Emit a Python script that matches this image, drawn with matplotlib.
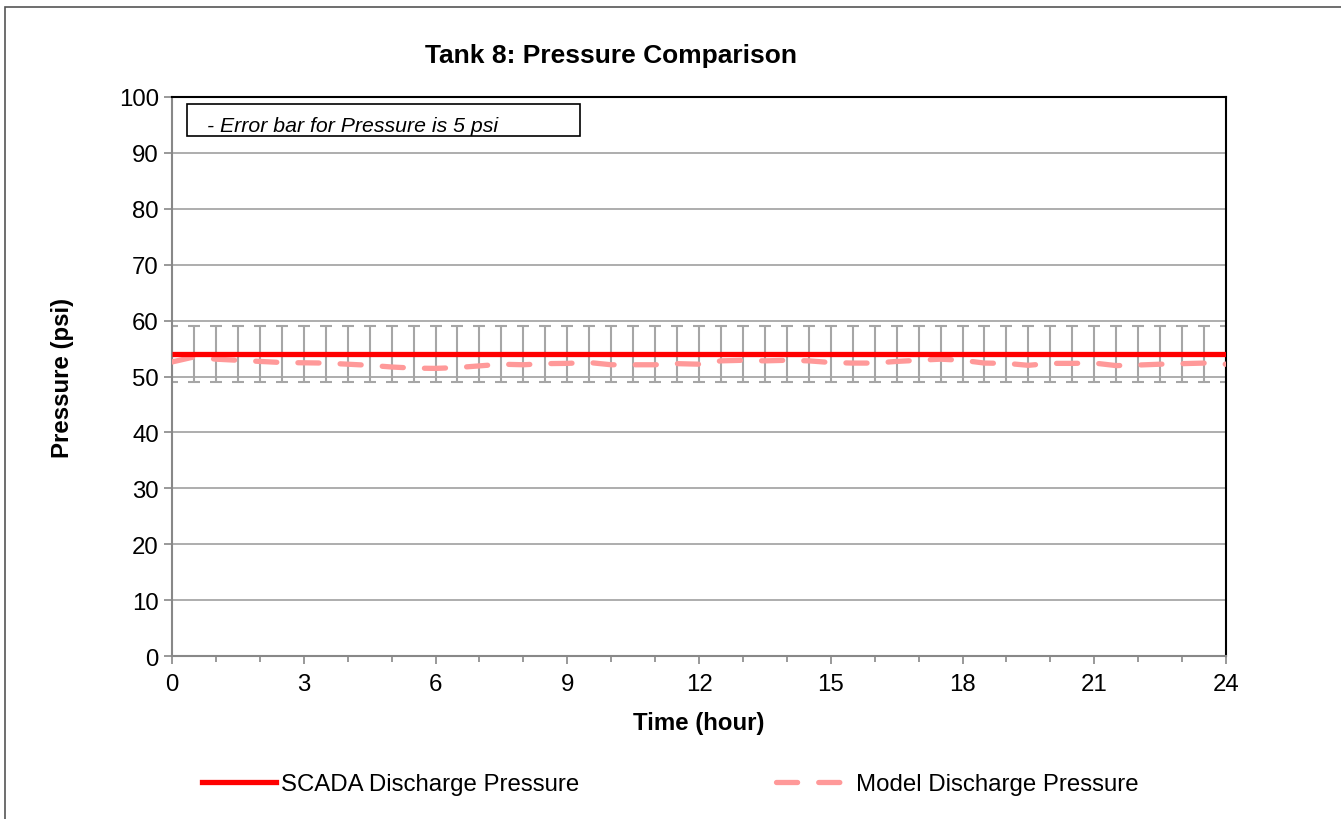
import matplotlib
matplotlib.use('Agg')
import matplotlib.pyplot as plt
import numpy as np
from matplotlib.lines import Line2D
from matplotlib.patches import Rectangle

plt.rcParams['font.family'] = ['Liberation Sans', 'DejaVu Sans']

# half-hour steps, 0..24 h
hours = np.arange(0, 24.5, 0.5)
scada = [54.0] * len(hours)
model = [52.6, 53.5, 53.1, 52.9, 52.7, 52.5, 52.45, 52.4, 52.2, 52.0,
         51.7, 51.5, 51.45, 51.6, 51.9, 52.2, 52.1, 52.3, 52.35, 52.5,
         52.1, 52.1, 52.1, 52.3, 52.2, 52.8, 52.9, 52.8, 52.9, 52.8,
         52.5, 52.4, 52.4, 52.7, 52.9, 53.1, 52.9, 52.4, 52.35, 52.0,
         52.35, 52.35, 52.4, 51.95, 52.05, 52.2, 52.3, 52.4, 52.2]
err = 5

W, H = 1341, 820
fig = plt.figure(figsize=(W / 100, H / 100), dpi=100)
ax = fig.add_axes([172 / W, 1 - 657 / H, 1054 / W, 559 / H])

ax.errorbar(hours, scada, yerr=err, fmt='none', ecolor='#a6a6a6',
            elinewidth=1.5, capsize=4, capthick=1.5, zorder=2)
ax.plot(hours, scada, color='#ff0000', lw=3.8, zorder=4,
        solid_capstyle='butt')
ax.plot(hours, model, color='#ff9999', lw=3.8, zorder=3,
        dashes=(4, 4), dash_capstyle='round')

ax.set_xlim(0, 24)
ax.set_ylim(0, 100)
ax.set_xticks(np.arange(0, 25, 3))
ax.set_xticks(np.arange(0, 25, 1), minor=True)
ax.set_yticks(np.arange(0, 101, 10))
ax.grid(axis='y', color='#a0a0a0', lw=1.2, zorder=0)
ax.set_axisbelow(True)
ax.tick_params(axis='both', which='major', direction='out', length=6,
               width=1.2, color='#888888', labelsize=17.3)
ax.tick_params(axis='x', which='minor', direction='out', length=4,
               width=1.2, color='#888888')
ax.tick_params(axis='x', pad=6)
for s in ['left', 'bottom']:
    ax.spines[s].set_color('#888888')
    ax.spines[s].set_linewidth(1.5)
for s in ['top', 'right']:
    ax.spines[s].set_color('#000000')
    ax.spines[s].set_linewidth(1.5)

ax.set_xlabel('Time (hour)', fontsize=17.3, fontweight='bold', labelpad=12)
ax.set_ylabel('Pressure (psi)', fontsize=17.3, fontweight='bold', labelpad=32)

fig.text(611 / W, 1 - 56 / H, 'Tank 8: Pressure Comparison', ha='center',
         va='center', fontsize=19, fontweight='bold')

# note box
fig.patches.append(Rectangle((187 / W, 1 - 137 / H), 393 / W, 32 / H,
                             transform=fig.transFigure, fill=False,
                             ec='black', lw=1.2))
fig.text(207 / W, 1 - 126 / H, '- Error bar for Pressure is 5 psi',
         ha='left', va='center', fontsize=15.3, style='italic')

# outer chart border
fig.patches.append(Rectangle((5 / W, -0.05), 1.1, 1 - 8 / H + 0.05,
                             transform=fig.transFigure, fill=False,
                             ec='#555555', lw=1.2, clip_on=False))

handles = [Line2D([], [], color='#ff0000', lw=3.8),
           Line2D([], [], color='#ff9999', lw=3.8, dashes=(4, 4),
                  dash_capstyle='round')]
fig.legend(handles, ['SCADA Discharge Pressure', 'Model Discharge Pressure'],
           loc='center', bbox_to_anchor=(670 / W, 1 - 785 / H), ncol=2,
           frameon=False, fontsize=17.3, handlelength=3.1, handletextpad=0.2,
           columnspacing=8.2)

fig.savefig('out.png', dpi=100)
